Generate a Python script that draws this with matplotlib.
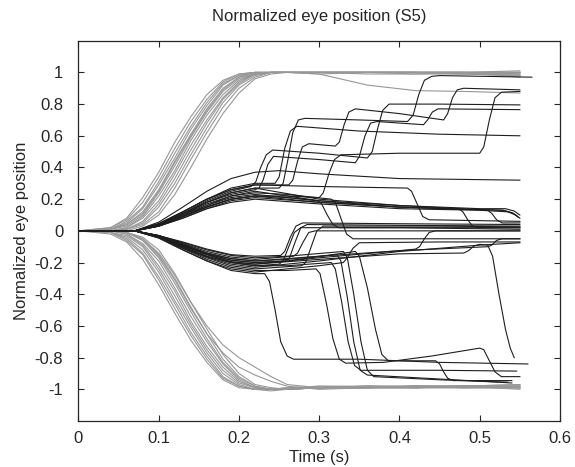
import matplotlib

matplotlib.use("Agg")

import matplotlib.pyplot as plt

plt.rcParams["font.family"] = ["Liberation Sans", "DejaVu Sans"]

# common time grid of the fast (gray) trials, seconds
GRAY_TIME = [0, 0.04, 0.06, 0.08, 0.10, 0.12, 0.14, 0.16, 0.18, 0.20,
             0.22, 0.24, 0.26, 0.30, 0.36, 0.42, 0.48, 0.55]

GRAY_UP = [
    [0, 0.02, 0.08, 0.21, 0.37, 0.56, 0.72, 0.86, 0.95, 0.99, 1.0, 1.0, 1.0, 1.0, 1.0, 1.0, 1.0, 1.0],
    [0, 0.02, 0.07, 0.18, 0.34, 0.52, 0.69, 0.83, 0.94, 0.99, 1.0, 1.0, 1.0, 1.0, 1.0, 0.99, 1.0, 0.99],
    [0, 0.01, 0.06, 0.15, 0.31, 0.49, 0.66, 0.81, 0.93, 0.98, 1.0, 1.0, 1.0, 1.0, 1.0, 1.0, 1.0, 1.01],
    [0, 0.01, 0.05, 0.14, 0.29, 0.46, 0.64, 0.79, 0.92, 0.98, 1.0, 1.0, 1.0, 0.99, 1.0, 1.0, 0.99, 0.98],
    [0, 0.01, 0.04, 0.12, 0.26, 0.44, 0.61, 0.77, 0.90, 0.97, 1.0, 1.0, 1.0, 1.0, 1.0, 1.0, 1.0, 1.0],
    [0, 0.01, 0.03, 0.10, 0.24, 0.41, 0.59, 0.75, 0.88, 0.96, 0.99, 1.0, 1.0, 1.0, 0.99, 0.99, 0.99, 0.98],
    [0, 0.0, 0.02, 0.09, 0.22, 0.38, 0.57, 0.73, 0.86, 0.95, 0.99, 1.0, 1.0, 1.0, 1.0, 1.0, 1.0, 0.97],
    [0, 0.0, 0.02, 0.08, 0.19, 0.36, 0.54, 0.70, 0.84, 0.94, 0.99, 1.0, 1.0, 1.0, 1.0, 1.0, 1.0, 1.0],
    [0, 0.0, 0.01, 0.06, 0.17, 0.33, 0.51, 0.68, 0.83, 0.93, 0.99, 1.0, 1.0, 1.0, 1.0, 1.0, 0.99, 0.99],
    [0, 0.0, 0.01, 0.05, 0.15, 0.30, 0.48, 0.65, 0.81, 0.92, 0.98, 1.0, 1.0, 1.0, 1.0, 1.0, 1.0, 1.0],
    [0, 0.0, 0.01, 0.04, 0.12, 0.27, 0.45, 0.62, 0.78, 0.90, 0.97, 1.0, 1.0, 1.0, 1.0, 1.0, 1.0, 0.99],
    [0, 0.0, 0.0, 0.03, 0.10, 0.23, 0.40, 0.58, 0.74, 0.87, 0.96, 0.99, 1.0, 1.0, 1.0, 1.0, 1.0, 0.98],
    [0, 0.01, 0.04, 0.11, 0.25, 0.43, 0.60, 0.76, 0.89, 0.97, 0.99, 1.0, 1.0, 0.99, 0.92, 0.885, 0.88, 0.87],
]

GRAY_DOWN = [
    [0, -0.02, -0.07, -0.18, -0.34, -0.52, -0.69, -0.83, -0.94, -0.99, -1.0, -1.0, -1.0, -0.99, -0.99, -0.99, -0.985, -0.98],
    [0, -0.01, -0.06, -0.15, -0.31, -0.49, -0.66, -0.81, -0.93, -0.98, -1.0, -1.0, -0.99, -0.99, -0.99, -0.98, -0.98, -0.99],
    [0, -0.01, -0.05, -0.14, -0.29, -0.46, -0.64, -0.79, -0.92, -0.98, -1.0, -1.0, -0.99, -0.98, -0.99, -0.99, -0.98, -0.97],
    [0, -0.01, -0.04, -0.12, -0.26, -0.44, -0.61, -0.77, -0.90, -0.97, -1.0, -1.01, -1.0, -0.99, -0.98, -0.98, -0.99, -0.99],
    [0, -0.01, -0.03, -0.10, -0.24, -0.41, -0.59, -0.75, -0.88, -0.96, -0.99, -1.0, -1.0, -0.99, -0.99, -0.98, -0.98, -1.0],
    [0, 0.0, -0.02, -0.09, -0.22, -0.38, -0.57, -0.73, -0.86, -0.95, -0.99, -1.0, -1.0, -0.99, -0.98, -0.99, -0.99, -0.98],
    [0, 0.0, -0.02, -0.08, -0.19, -0.36, -0.54, -0.70, -0.84, -0.94, -0.99, -1.0, -1.0, -0.98, -0.98, -0.98, -0.99, -0.99],
    [0, 0.0, -0.01, -0.06, -0.17, -0.33, -0.51, -0.68, -0.83, -0.93, -0.98, -1.0, -1.0, -0.99, -0.99, -0.99, -0.98, -0.98],
    [0, 0.0, -0.01, -0.05, -0.15, -0.30, -0.48, -0.65, -0.81, -0.92, -0.98, -1.0, -1.0, -0.99, -0.98, -0.99, -0.99, -0.99],
    [0, 0.0, -0.01, -0.04, -0.12, -0.27, -0.45, -0.62, -0.78, -0.90, -0.97, -0.99, -1.0, -0.99, -0.99, -0.98, -0.98, -0.98],
    [0, 0.0, -0.01, -0.05, -0.14, -0.28, -0.45, -0.60, -0.72, -0.80, -0.86, -0.92, -0.97, -0.99, -0.99, -0.99, -0.98, -0.99],
    [0, 0.0, -0.01, -0.06, -0.16, -0.31, -0.49, -0.65, -0.77, -0.86, -0.91, -0.95, -0.98, -1.0, -0.99, -0.98, -0.98, -0.97],
]

# slow (black) trials that first drift upward: (time, position) points
BLACK_UP = [
    [(0, 0), (0.07, 0), (0.10, 0.055), (0.13, 0.15), (0.16, 0.25), (0.19, 0.33), (0.22, 0.37),
     (0.25, 0.38), (0.30, 0.36), (0.40, 0.33), (0.55, 0.32)],
    [(0, 0), (0.07, 0), (0.10, 0.04), (0.13, 0.11), (0.16, 0.18), (0.19, 0.24), (0.22, 0.27),
     (0.25, 0.27), (0.255, 0.30), (0.261, 0.45), (0.267, 0.62), (0.274, 0.70), (0.282, 0.71),
     (0.35, 0.70), (0.41, 0.69), (0.417, 0.73), (0.424, 0.86), (0.431, 0.95), (0.44, 0.975),
     (0.45, 0.98), (0.565, 0.97)],
    [(0, 0), (0.07, 0), (0.10, 0.04), (0.13, 0.11), (0.16, 0.19), (0.19, 0.25), (0.215, 0.28),
     (0.221, 0.31), (0.227, 0.40), (0.234, 0.48), (0.242, 0.51), (0.30, 0.49), (0.36, 0.46),
     (0.366, 0.50), (0.372, 0.63), (0.379, 0.76), (0.387, 0.80), (0.45, 0.80), (0.55, 0.795)],
    [(0, 0), (0.07, 0), (0.10, 0.045), (0.13, 0.12), (0.16, 0.20), (0.19, 0.26), (0.22, 0.29),
     (0.262, 0.29), (0.267, 0.32), (0.273, 0.44), (0.279, 0.53), (0.287, 0.55), (0.32, 0.535),
     (0.325, 0.56), (0.331, 0.67), (0.337, 0.75), (0.345, 0.77), (0.40, 0.74), (0.455, 0.70),
     (0.46, 0.74), (0.466, 0.84), (0.472, 0.89), (0.48, 0.90), (0.55, 0.89)],
    [(0, 0), (0.07, 0), (0.10, 0.03), (0.13, 0.09), (0.16, 0.15), (0.19, 0.20), (0.22, 0.22),
     (0.26, 0.22), (0.30, 0.21), (0.305, 0.24), (0.312, 0.36), (0.319, 0.45), (0.327, 0.48),
     (0.40, 0.49), (0.50, 0.49), (0.505, 0.53), (0.512, 0.70), (0.519, 0.84), (0.527, 0.875),
     (0.55, 0.88)],
    [(0, 0), (0.07, 0), (0.10, 0.04), (0.13, 0.10), (0.16, 0.18), (0.19, 0.23), (0.22, 0.26),
     (0.225, 0.27), (0.23, 0.32), (0.236, 0.42), (0.243, 0.47), (0.30, 0.45), (0.345, 0.43),
     (0.35, 0.47), (0.357, 0.60), (0.364, 0.68), (0.372, 0.69), (0.43, 0.67), (0.435, 0.70),
     (0.441, 0.75), (0.448, 0.77), (0.55, 0.765)],
    [(0, 0), (0.07, 0), (0.10, 0.045), (0.13, 0.12), (0.16, 0.20), (0.19, 0.27), (0.22, 0.30),
     (0.245, 0.30), (0.25, 0.34), (0.257, 0.52), (0.264, 0.63), (0.272, 0.66), (0.35, 0.63),
     (0.45, 0.61), (0.55, 0.60)],
    [(0, 0), (0.07, 0), (0.10, 0.045), (0.13, 0.12), (0.16, 0.20), (0.19, 0.26), (0.22, 0.29),
     (0.30, 0.28), (0.41, 0.27), (0.415, 0.25), (0.422, 0.17), (0.429, 0.09), (0.437, 0.07),
     (0.55, 0.06)],
    [(0, 0), (0.07, 0), (0.10, 0.03), (0.13, 0.09), (0.16, 0.15), (0.19, 0.20), (0.22, 0.22),
     (0.26, 0.21), (0.298, 0.19), (0.303, 0.17), (0.31, 0.10), (0.317, 0.04), (0.325, 0.02),
     (0.55, 0.02)],
    [(0, 0), (0.07, 0), (0.10, 0.035), (0.13, 0.10), (0.16, 0.16), (0.19, 0.22), (0.22, 0.24),
     (0.26, 0.23), (0.315, 0.20), (0.32, 0.18), (0.327, 0.08), (0.334, -0.02), (0.342, -0.05),
     (0.55, -0.05)],
    [(0, 0), (0.07, 0), (0.10, 0.035), (0.13, 0.09), (0.16, 0.16), (0.19, 0.21), (0.22, 0.23),
     (0.30, 0.19), (0.40, 0.16), (0.474, 0.14), (0.479, 0.12), (0.485, 0.07), (0.491, 0.03),
     (0.498, 0.02), (0.55, 0.02)],
    [(0, 0), (0.07, 0), (0.10, 0.03), (0.13, 0.08), (0.16, 0.14), (0.19, 0.19), (0.22, 0.21),
     (0.30, 0.18), (0.40, 0.15), (0.51, 0.13), (0.515, 0.11), (0.521, 0.07), (0.528, 0.05),
     (0.55, 0.05)],
    [(0, 0), (0.07, 0), (0.10, 0.03), (0.13, 0.08), (0.16, 0.14), (0.19, 0.18), (0.22, 0.20),
     (0.30, 0.17), (0.40, 0.14), (0.50, 0.13), (0.535, 0.12), (0.545, 0.10), (0.55, 0.08)],
    [(0, 0), (0.07, 0), (0.10, 0.03), (0.13, 0.09), (0.16, 0.15), (0.19, 0.20), (0.22, 0.22),
     (0.30, 0.18), (0.40, 0.15), (0.50, 0.135), (0.53, 0.13), (0.542, 0.11), (0.548, 0.085)],
    [(0, 0), (0.07, 0), (0.10, 0.04), (0.13, 0.10), (0.16, 0.17), (0.19, 0.22), (0.22, 0.25),
     (0.30, 0.19), (0.40, 0.15), (0.50, 0.135), (0.528, 0.13), (0.54, 0.115), (0.546, 0.095)],
    [(0, 0), (0.07, 0), (0.10, 0.04), (0.13, 0.11), (0.16, 0.18), (0.19, 0.24), (0.22, 0.27),
     (0.30, 0.20), (0.40, 0.16), (0.50, 0.14), (0.532, 0.14), (0.543, 0.125), (0.55, 0.10)],
]

# slow (black) trials that first drift downward
BLACK_DOWN = [
    [(0, 0), (0.07, 0), (0.10, -0.045), (0.13, -0.12), (0.16, -0.19), (0.19, -0.25), (0.22, -0.27),
     (0.232, -0.27), (0.238, -0.32), (0.245, -0.50), (0.252, -0.70), (0.26, -0.79), (0.268, -0.81),
     (0.35, -0.81), (0.45, -0.83), (0.56, -0.84)],
    [(0, 0), (0.07, 0), (0.10, -0.04), (0.13, -0.11), (0.16, -0.18), (0.19, -0.23), (0.22, -0.25),
     (0.26, -0.25), (0.296, -0.24), (0.301, -0.27), (0.309, -0.46), (0.317, -0.68), (0.325, -0.81),
     (0.333, -0.835), (0.38, -0.83), (0.44, -0.79), (0.50, -0.74), (0.505, -0.75), (0.512, -0.82),
     (0.519, -0.89), (0.527, -0.92), (0.55, -0.92)],
    [(0, 0), (0.07, 0), (0.10, -0.035), (0.13, -0.10), (0.16, -0.16), (0.19, -0.20), (0.22, -0.22),
     (0.26, -0.22), (0.315, -0.20), (0.32, -0.24), (0.328, -0.45), (0.336, -0.70), (0.344, -0.85),
     (0.352, -0.88), (0.45, -0.88), (0.546, -0.885)],
    [(0, 0), (0.07, 0), (0.10, -0.03), (0.13, -0.085), (0.16, -0.14), (0.19, -0.175), (0.22, -0.19),
     (0.26, -0.18), (0.322, -0.15), (0.327, -0.19), (0.335, -0.42), (0.343, -0.70), (0.351, -0.88),
     (0.36, -0.91), (0.45, -0.935), (0.54, -0.96)],
    [(0, 0), (0.07, 0), (0.10, -0.03), (0.13, -0.075), (0.16, -0.12), (0.19, -0.155), (0.22, -0.17),
     (0.26, -0.16), (0.33, -0.13), (0.335, -0.17), (0.343, -0.40), (0.352, -0.70), (0.36, -0.88),
     (0.368, -0.92), (0.45, -0.94), (0.535, -0.955)],
    [(0, 0), (0.07, 0), (0.10, -0.035), (0.13, -0.09), (0.16, -0.145), (0.19, -0.185), (0.22, -0.20),
     (0.26, -0.19), (0.345, -0.13), (0.35, -0.16), (0.36, -0.36), (0.37, -0.62), (0.378, -0.78),
     (0.386, -0.82), (0.445, -0.82), (0.45, -0.84), (0.455, -0.89), (0.46, -0.93), (0.467, -0.945),
     (0.54, -0.945)],
    [(0, 0), (0.07, 0), (0.10, -0.035), (0.13, -0.095), (0.16, -0.15), (0.19, -0.195), (0.22, -0.21),
     (0.30, -0.18), (0.40, -0.145), (0.48, -0.14), (0.486, -0.125), (0.493, -0.095), (0.50, -0.085),
     (0.51, -0.09), (0.516, -0.16), (0.524, -0.40), (0.532, -0.62), (0.538, -0.74), (0.543, -0.80)],
    [(0, 0), (0.07, 0), (0.10, -0.035), (0.13, -0.10), (0.16, -0.16), (0.19, -0.20), (0.22, -0.22),
     (0.25, -0.21), (0.255, -0.19), (0.262, -0.10), (0.269, -0.01), (0.277, 0.02), (0.40, 0.02),
     (0.55, 0.01)],
    [(0, 0), (0.07, 0), (0.10, -0.035), (0.13, -0.09), (0.16, -0.145), (0.19, -0.185), (0.22, -0.20),
     (0.258, -0.19), (0.263, -0.17), (0.27, -0.07), (0.277, 0.02), (0.285, 0.04), (0.40, 0.035),
     (0.55, 0.03)],
    [(0, 0), (0.07, 0), (0.10, -0.03), (0.13, -0.08), (0.16, -0.13), (0.19, -0.165), (0.22, -0.18),
     (0.268, -0.16), (0.273, -0.14), (0.28, -0.07), (0.287, -0.01), (0.295, 0.0), (0.55, 0.0)],
    [(0, 0), (0.07, 0), (0.10, -0.04), (0.13, -0.11), (0.16, -0.17), (0.19, -0.22), (0.22, -0.24),
     (0.278, -0.22), (0.283, -0.20), (0.29, -0.10), (0.297, 0.0), (0.305, 0.03), (0.45, 0.03),
     (0.55, 0.025)],
    [(0, 0), (0.07, 0), (0.10, -0.03), (0.13, -0.07), (0.16, -0.115), (0.19, -0.15), (0.22, -0.16),
     (0.252, -0.155), (0.257, -0.13), (0.264, -0.04), (0.271, 0.03), (0.279, 0.05), (0.40, 0.045),
     (0.55, 0.04)],
    [(0, 0), (0.07, 0), (0.10, -0.035), (0.13, -0.095), (0.16, -0.15), (0.19, -0.195), (0.22, -0.21),
     (0.30, -0.17), (0.40, -0.125), (0.42, -0.115), (0.425, -0.10), (0.431, -0.05), (0.437, -0.01),
     (0.445, 0.0), (0.55, 0.0)],
    [(0, 0), (0.07, 0), (0.10, -0.03), (0.13, -0.085), (0.16, -0.14), (0.19, -0.175), (0.22, -0.19),
     (0.30, -0.16), (0.40, -0.125), (0.51, -0.10), (0.515, -0.09), (0.521, -0.06), (0.528, -0.05),
     (0.55, -0.05)],
    [(0, 0), (0.07, 0), (0.10, -0.04), (0.13, -0.105), (0.16, -0.165), (0.19, -0.21), (0.22, -0.23),
     (0.30, -0.19), (0.40, -0.13), (0.50, -0.09), (0.55, -0.075)],
    [(0, 0), (0.07, 0), (0.10, -0.045), (0.13, -0.12), (0.16, -0.19), (0.19, -0.24), (0.22, -0.26),
     (0.30, -0.22), (0.33, -0.20), (0.335, -0.17), (0.342, -0.11), (0.35, -0.075), (0.45, -0.07),
     (0.55, -0.07)],
]

X_TICKS = [0, 0.1, 0.2, 0.3, 0.4, 0.5, 0.6]
X_TICK_LABELS = ["0", "0.1", "0.2", "0.3", "0.4", "0.5", "0.6"]
Y_TICKS = [-1, -0.8, -0.6, -0.4, -0.2, 0, 0.2, 0.4, 0.6, 0.8, 1]
Y_TICK_LABELS = ["-1", "-0.8", "-0.6", "-0.4", "-0.2", "0", "0.2", "0.4", "0.6", "0.8", "1"]

GRAY = "#979797"
BLACK = "#1e1e1e"
TEXT = "#262626"


def main():
    fig = plt.figure(figsize=(5.75, 4.67), dpi=100)
    ax = fig.add_axes([0.1365, 0.0985, 0.8374, 0.8143])

    for trace in GRAY_UP + GRAY_DOWN:
        ax.plot(GRAY_TIME, trace, color=GRAY, lw=0.8)

    for trace in BLACK_UP + BLACK_DOWN:
        times, values = zip(*trace)
        ax.plot(times, values, color=BLACK, lw=0.8)

    ax.set_xlim(0, 0.6)
    ax.set_ylim(-1.2, 1.2)
    ax.set_xticks(X_TICKS)
    ax.set_xticklabels(X_TICK_LABELS)
    ax.set_yticks(Y_TICKS)
    ax.set_yticklabels(Y_TICK_LABELS)
    ax.tick_params(direction="in", length=4, width=0.8, top=True, right=True,
                   labelsize=12, labelcolor=TEXT, color=TEXT)
    ax.tick_params(axis="x", pad=7)
    ax.tick_params(axis="y", pad=11)
    for spine in ax.spines.values():
        spine.set_linewidth(0.9)
        spine.set_color(TEXT)

    ax.set_title("Normalized eye position (S5)", fontsize=12, color=TEXT, pad=14)
    ax.set_xlabel("Time (s)", fontsize=12, color=TEXT, labelpad=3)
    ax.set_ylabel("Normalized eye position", fontsize=12, color=TEXT, labelpad=4)

    fig.savefig("out.png", dpi=100)


if __name__ == "__main__":
    main()
